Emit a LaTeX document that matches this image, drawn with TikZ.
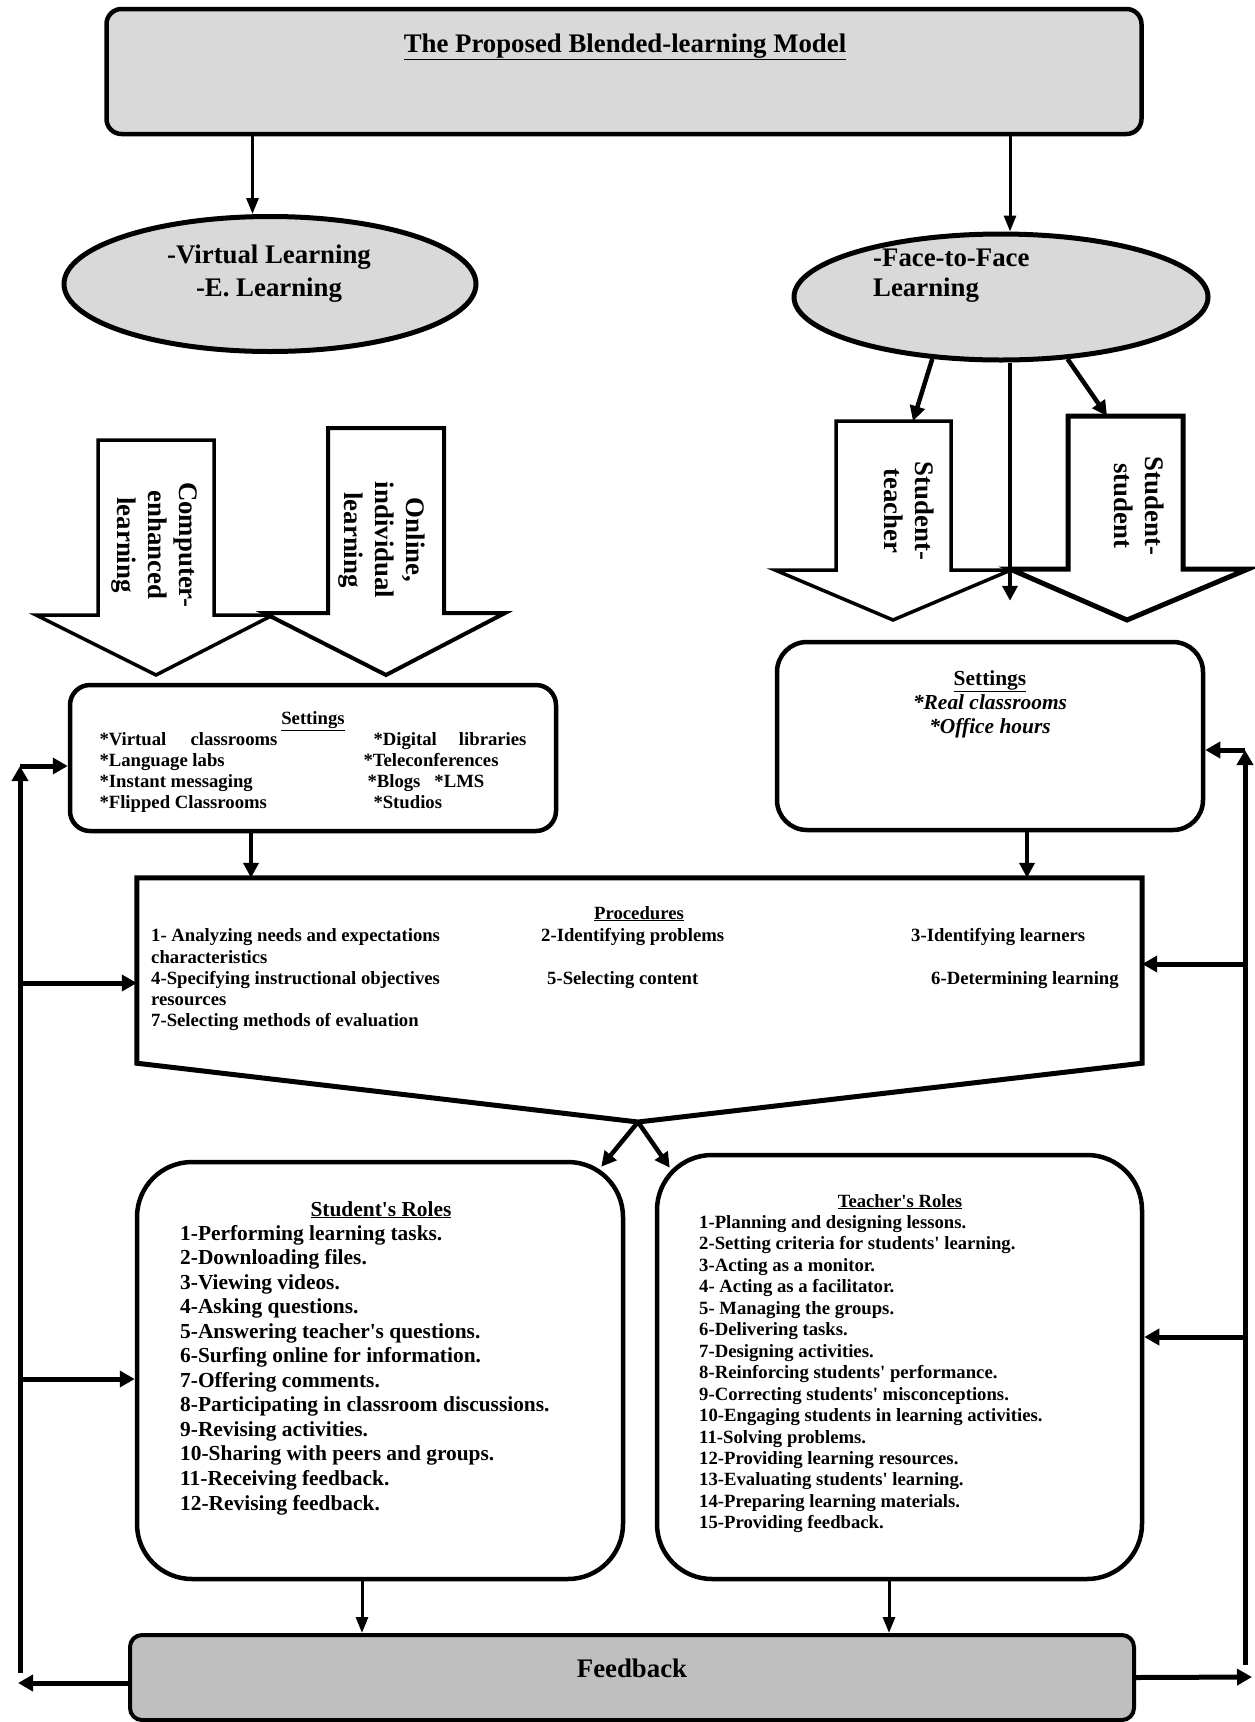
\documentclass[tikz,border=0pt]{standalone}
\usepackage{fontspec}
\setmainfont{Liberation Serif}
\usetikzlibrary{positioning,shapes.geometric,arrows.meta,calc}

\newcommand{\ap}{\textquotesingle}

\tikzset{
    greybox/.style={draw, line width=4.5pt, rounded corners=15pt, fill=black!15},
    roundbox/.style={draw, line width=4.5pt, fill=white},
    oval/.style={draw, ellipse, line width=5pt, fill=black!15},
    blockarrow/.style={draw, line width=4pt, fill=white, line join=miter},
    bigtext/.style={font=\bfseries\fontsize{26.8}{31}\selectfont},
    ovaltext/.style={font=\bfseries\fontsize{26.8}{33}\selectfont},
    midtext/.style={font=\bfseries\fontsize{21.4}{24}\selectfont},
    roletext/.style={font=\bfseries\fontsize{21.4}{24.5}\selectfont},
    smalltext/.style={font=\bfseries\fontsize{18.7}{21}\selectfont},
    link/.style={-{Triangle[length=15pt,width=15pt]}, line width=4.5pt},
    thinlink/.style={-{Triangle[length=16pt,width=12pt]}, line width=3pt},
    backlink/.style={-{Triangle[length=15pt,width=16pt]}, line width=5pt}
}

\begin{document}
\begin{tikzpicture}[x=1pt, y=-1pt, inner sep=0pt]
    \useasboundingbox (0,0) rectangle (1254,1722);
    % Model
    \node[greybox, minimum width=1035pt, minimum height=125pt] (model) at (624,71.5) {};
    \node[bigtext, anchor=base] (title) at (625,52) {\underline{The Proposed Blended-learning Model}};
    % Learning modes
    \node[oval, minimum width=412pt, minimum height=135pt] (virt) at (270,284) {};
    \node[ovaltext, align=center] (virtlbl) at (269,273.5) {-Virtual Learning\\-E. Learning};
    \node[oval, minimum width=414pt, minimum height=126pt] (face) at (1001,297) {};
    \node[ovaltext, align=left, anchor=west, font=\bfseries\fontsize{26.8}{30}\selectfont] (facelbl) at (873,276) {-Face-to-Face\\Learning};
    \coordinate (vtop) at ([xshift=-371.5pt]model.south);
    \coordinate (ftop) at ([xshift=386pt]model.south);
    \draw[thinlink] (vtop) -- (vtop |- virt.north);
    \draw[thinlink] (ftop) -- (ftop |- face.north);
    % Block arrows
    \draw[blockarrow, line width=3.5pt] (98,440) -- (214,440) -- (214,615) -- (273,615) -- (156,675) -- (36,615) -- (98,615) -- cycle;
    \draw[blockarrow] (328,428) -- (444,428) -- (444,613) -- (505,613) -- (386,675) -- (264,613) -- (328,613) -- cycle;
    \draw[blockarrow, line width=3.5pt] (836,421) -- (951,421) -- (951,570) -- (1011,570) -- (893,620) -- (775,570) -- (836,570) -- cycle;
    \draw[blockarrow, line width=5pt] (1068,416) -- (1183,416) -- (1183,569) -- (1248,569) -- (1127,620) -- (1010,569) -- (1068,569) -- cycle;
    \node[bigtext, rotate=-90, align=center] (cel) at (154,545) {Computer-\\enhanced\\learning};
    \node[bigtext, rotate=-90, align=center] (oil) at (382,540) {Online,\\individual\\learning};
    \node[bigtext, rotate=-90, align=center] (stl) at (909,511) {Student-\\teacher};
    \node[bigtext, rotate=-90, align=center] (ssl) at (1139,506) {Student-\\student};
    % Settings
    \node[roundbox, rounded corners=20pt, minimum width=486pt, minimum height=146pt] (vset) at (313,758) {};
    \node[smalltext, align=center] (vsetlbl) at (313,763.5)
        {\underline{Settings}\\
         \begin{tabular}[t]{@{}p{264pt}@{}p{163pt}@{}}
         \makebox[178pt][s]{*Virtual classrooms} & \hspace*{10pt}\makebox[153pt][s]{*Digital libraries}\\
         {*}Language labs & {*}Teleconferences\\
         {*}Instant messaging & \hspace*{4pt}*Blogs\hspace{14pt}*LMS\\
         {*}Flipped Classrooms & \hspace*{10pt}*Studios
         \end{tabular}};
    \node[roundbox, rounded corners=30pt, minimum width=426pt, minimum height=188pt] (fset) at (990,736) {};
    \node[midtext, align=center] (fsetlbl) at (990,704) {\underline{Settings}\\\textit{*Real classrooms}\\\textit{*Office hours}};
    % Face-to-face arrows
    \coordinate (sttop) at (913,421);
    \coordinate (sstop) at (1107,416);
    \coordinate (fmid) at ([xshift=9pt]face.south);
    \draw[link] (face.222) -- (sttop);
    \draw[link] (face.317) -- (sstop);
    \draw[link, shorten >=39pt] (fmid) -- (fmid |- fset.north);
    % Procedures
    \node[minimum width=1005pt, minimum height=185pt] (proc) at (639.5,970.5) {};
    \coordinate (ptip) at (638,1122);
    \draw[line width=5pt, line join=miter] (proc.south west) -- (proc.north west) -- (proc.north east) -- (proc.south east) -- (ptip) -- cycle;
    \node[smalltext, anchor=base] (proctitle) at (639,919) {\underline{Procedures}};
    \node[smalltext, anchor=base west] (p1) at (151,941) {1- Analyzing needs and expectations};
    \node[smalltext, anchor=base west] (p1b) at (151,963) {characteristics};
    \node[smalltext, anchor=base west] (p2) at (541,941) {2-Identifying problems};
    \node[smalltext, anchor=base west] (p3) at (911,941) {3-Identifying learners};
    \node[smalltext, anchor=base west] (p4) at (151,984.5) {4-Specifying instructional objectives};
    \node[smalltext, anchor=base west] (p4b) at (151,1005.5) {resources};
    \node[smalltext, anchor=base west] (p5) at (547,984.5) {5-Selecting content};
    \node[smalltext, anchor=base west] (p6) at (931,984.5) {6-Determining learning};
    \node[smalltext, anchor=base west] (p7) at (151,1026.5) {7-Selecting methods of evaluation};
    \coordinate (vsbot) at ([xshift=-62pt]vset.south);
    \coordinate (fsbot) at ([xshift=37pt]fset.south);
    \draw[link] (vsbot) -- (vsbot |- proc.north);
    \draw[link] (fsbot) -- (fsbot |- proc.north);
    % Roles
    \node[roundbox, rounded corners=55pt, minimum width=486pt, minimum height=417pt] (srole) at (380,1370.5) {};
    \node[roundbox, rounded corners=55pt, minimum width=485pt, minimum height=424pt] (trole) at (899.5,1367) {};
    \draw[link] (ptip) -- ([xshift=-24pt,yshift=-7pt]srole.north east);
    \draw[link] (ptip) -- ([xshift=15pt,yshift=-15pt]trole.north west);
    \node[roletext, anchor=base] (srtitle) at (381,1216) {\underline{Student\ap{}s Roles}};
    \foreach \t [count=\i] in {{1-Performing learning tasks.}, {2-Downloading files.}, {3-Viewing videos.},
        {4-Asking questions.}, {5-Answering teacher\ap{}s questions.}, {6-Surfing online for information.},
        {7-Offering comments.}, {8-Participating in classroom discussions.}, {9-Revising activities.},
        {10-Sharing with peers and groups.}, {11-Receiving feedback.}, {12-Revising feedback.}}
        \node[roletext, anchor=base west] (s\i) at (180,{1240+24.55*(\i-1)}) {\t};
    \node[smalltext, anchor=base] (trtitle) at (900,1207) {\underline{Teacher\ap{}s Roles}};
    \foreach \t [count=\i] in {{1-Planning and designing lessons.}, {2-Setting criteria for students\ap{} learning.},
        {3-Acting as a monitor.}, {4- Acting as a facilitator.}, {5- Managing the groups.}, {6-Delivering tasks.},
        {7-Designing activities.}, {8-Reinforcing students\ap{} performance.}, {9-Correcting students\ap{} misconceptions.},
        {10-Engaging students in learning activities.}, {11-Solving problems.}, {12-Providing learning resources.},
        {13-Evaluating students\ap{} learning.}, {14-Preparing learning materials.}, {15-Providing feedback.}}
        \node[smalltext, anchor=base west] (t\i) at (699,{1228.5+21.45*(\i-1)}) {\t};
    % Feedback
    \node[greybox, fill=black!25, rounded corners=12pt, line width=4pt, minimum width=1004pt, minimum height=85pt] (fb) at (632,1677.5) {};
    \node[bigtext, anchor=base] (fbl) at (632,1677) {Feedback};
    \coordinate (sbot) at ([xshift=-18pt]srole.south);
    \coordinate (tbot) at ([xshift=-10.5pt]trole.south);
    \draw[thinlink] (sbot) -- (sbot |- fb.north);
    \draw[thinlink] (tbot) -- (tbot |- fb.north);
    % Loop back, left
    \coordinate (lbot) at (20,1673);
    \coordinate (ltop) at (20,766);
    \coordinate (lproc) at (20,983);
    \coordinate (lsr) at (20,1379);
    \coordinate (lout) at (18,1683);
    \coordinate (fbl-out) at ([yshift=-5.5pt]fb.west);
    \draw[backlink] (lbot) -- (ltop);
    \draw[backlink] (ltop) -- (ltop -| vset.west);
    \draw[backlink] (lproc) -- (lproc -| proc.west);
    \draw[backlink] (lsr) -- (lsr -| srole.west);
    \draw[backlink] (fbl-out) -- (lout);
    % Loop back, right
    \coordinate (rbot) at (1245,1665);
    \coordinate (rtop) at (1245,750);
    \coordinate (rproc) at (1245,964);
    \coordinate (rtr) at (1245,1337);
    \coordinate (rout) at (1252,1677);
    \draw[backlink] (rbot) -- (rtop);
    \draw[backlink] (rtop) -- (rtop -| fset.east);
    \draw[backlink] (rproc) -- (rproc -| proc.east);
    \draw[backlink] (rtr) -- (rtr -| trole.east);
    \draw[backlink] (fb.east) -- (rout);
\end{tikzpicture}
\end{document}
